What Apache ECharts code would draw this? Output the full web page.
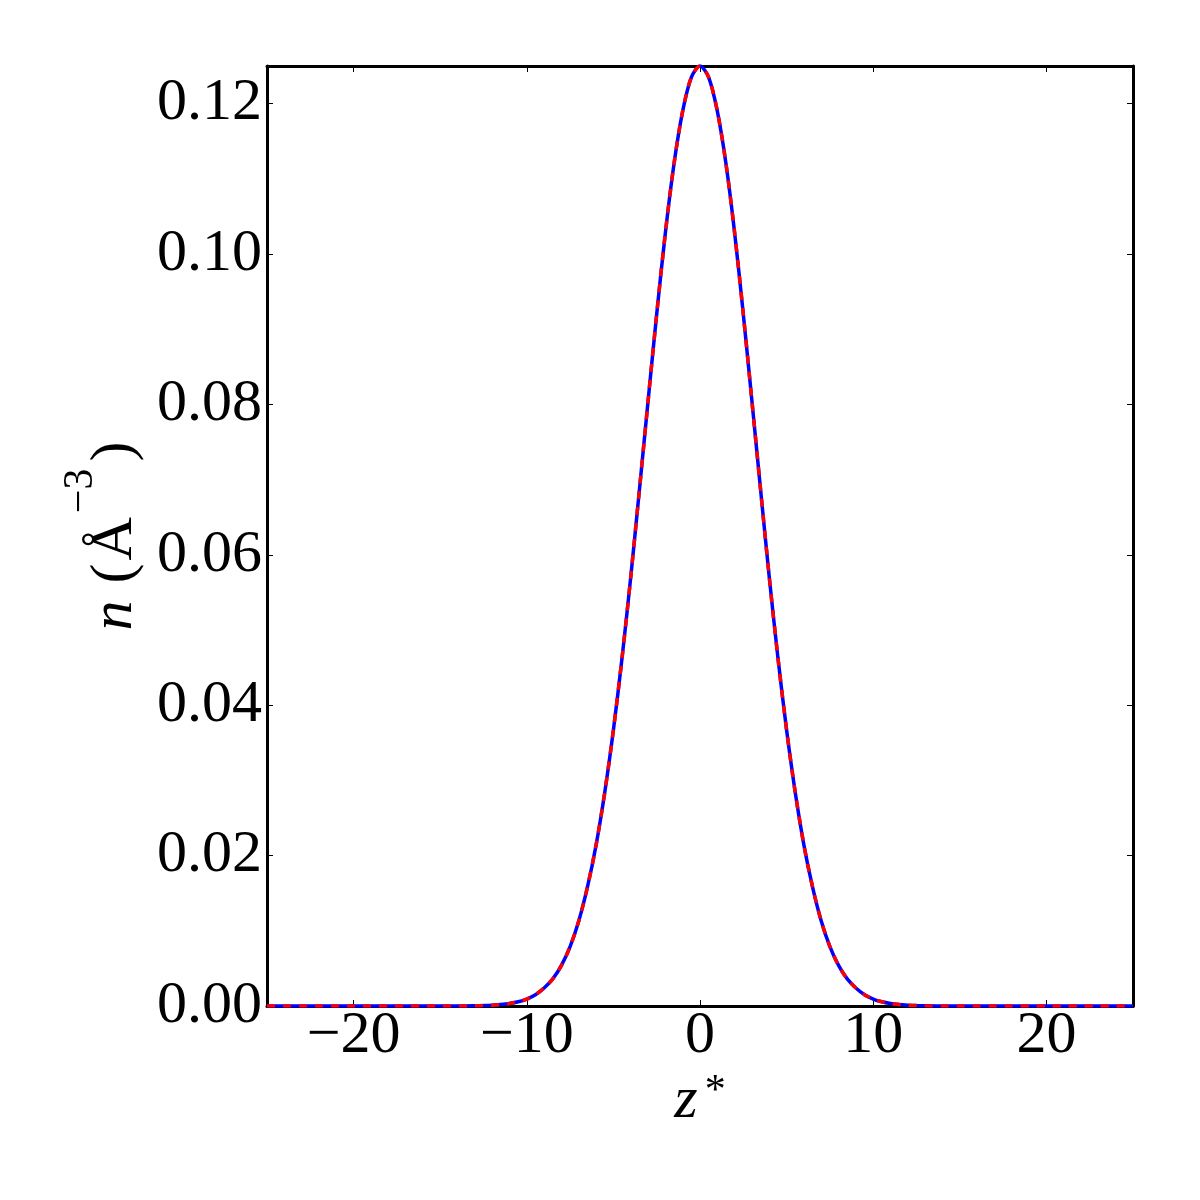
<!DOCTYPE html>
<html>
<head>
<meta charset="utf-8">
<script src="https://cdn.jsdelivr.net/npm/echarts@6/dist/echarts.min.js"></script>
<style>
  html, body { margin: 0; padding: 0; background: #fff; }
  #main { width: 1200px; height: 1200px; }
</style>
</head>
<body>
<div id="main"></div>
<script>
// z* positions and densities
var zList = [-25, -24, -23, -22, -21, -20, -19, -18, -17, -16, -15, -14,
    -13, -12.5, -12, -11.5, -11, -10.5, -10, -9.5, -9, -8.5, -8, -7.5, -7, -6.5, -6, -5.5, -5, -4.5, -4, -3.5, -3, -2.5, -2, -1.5, -1, -0.5,
    0,
    0.5, 1, 1.5, 2, 2.5, 3, 3.5, 4, 4.5, 5, 5.5, 6, 6.5, 7, 7.5, 8, 8.5, 9, 9.5, 10, 10.5, 11, 11.5, 12, 12.5, 13,
    14, 15, 16, 17, 18, 19, 20, 21, 22, 23, 24, 25];

var nBlue = [0, 0, 0, 0, 0, 0, 0, 0, 0, 0, 0, 0,
    0.00003, 0.00006, 0.00011, 0.00019, 0.00033, 0.00056, 0.00093, 0.0015, 0.0024, 0.0036, 0.0054, 0.0079, 0.0113, 0.0158, 0.0214, 0.0284, 0.0367, 0.0463, 0.0570, 0.0686, 0.0804, 0.0920, 0.1028, 0.1120, 0.1190, 0.1235,
    0.1250,
    0.1235, 0.1190, 0.1120, 0.1028, 0.0920, 0.0804, 0.0686, 0.0570, 0.0463, 0.0367, 0.0284, 0.0214, 0.0158, 0.0113, 0.0079, 0.0054, 0.0036, 0.0024, 0.0015, 0.00093, 0.00056, 0.00033, 0.00019, 0.00011, 0.00006, 0.00003,
    0, 0, 0, 0, 0, 0, 0, 0, 0, 0, 0, 0];

var nRed = [0, 0, 0, 0, 0, 0, 0, 0, 0, 0, 0, 0,
    0.00003, 0.00006, 0.00011, 0.00019, 0.00033, 0.00056, 0.00093, 0.0015, 0.0024, 0.0036, 0.0054, 0.0079, 0.0113, 0.0158, 0.0214, 0.0284, 0.0367, 0.0463, 0.0570, 0.0686, 0.0804, 0.0920, 0.1028, 0.1120, 0.1190, 0.1235,
    0.1250,
    0.1235, 0.1190, 0.1120, 0.1028, 0.0920, 0.0804, 0.0686, 0.0570, 0.0463, 0.0367, 0.0284, 0.0214, 0.0158, 0.0113, 0.0079, 0.0054, 0.0036, 0.0024, 0.0015, 0.00093, 0.00056, 0.00033, 0.00019, 0.00011, 0.00006, 0.00003,
    0, 0, 0, 0, 0, 0, 0, 0, 0, 0, 0, 0];

var xTicks = [-20, -10, 0, 10, 20];
var yTicks = [0, 0.02, 0.04, 0.06, 0.08, 0.10, 0.12];

var serif = 'Liberation Serif';

function pairs(xs, ys) {
    var out = [];
    for (var i = 0; i < xs.length; i++) {
        out.push([xs[i], ys[i]]);
    }
    return out;
}

var chart = echarts.init(document.getElementById('main'));

var tickStyle = { inside: true, length: 6, lineStyle: { color: '#000', width: 1 } };
var frameLine = { show: true, onZero: false, lineStyle: { color: '#000', width: 3 } };

var option = {
    animation: false,
    backgroundColor: '#fff',
    grid: { left: 267, right: 67, top: 66, bottom: 194, containLabel: false },
    xAxis: [{
        type: 'value',
        min: -25,
        max: 25,
        position: 'bottom',
        axisLine: frameLine,
        axisTick: Object.assign({ customValues: xTicks }, tickStyle),
        splitLine: { show: false },
        axisLabel: {
            customValues: xTicks,
            margin: 0,
            fontFamily: serif,
            fontSize: 60,
            color: '#000',
            formatter: function (v) {
                return v < 0 ? '\u2212' + Math.abs(v) : String(v);
            }
        },
        name: '{i|z}{s|*}',
        nameLocation: 'middle',
        nameGap: 46,
        nameTextStyle: {
            rich: {
                i: { fontFamily: serif, fontStyle: 'italic', fontSize: 60, color: '#000' },
                s: { fontFamily: serif, fontSize: 42, color: '#000', verticalAlign: 'top', padding: [0, 0, 0, 7] }
            }
        }
    }, {
        type: 'value',
        min: -25,
        max: 25,
        position: 'top',
        axisLine: frameLine,
        axisTick: Object.assign({ customValues: xTicks }, tickStyle),
        splitLine: { show: false },
        axisLabel: { show: false }
    }],
    yAxis: [{
        type: 'value',
        min: 0,
        max: 0.125,
        position: 'left',
        axisLine: frameLine,
        axisTick: Object.assign({ customValues: yTicks }, tickStyle),
        splitLine: { show: false },
        axisLabel: {
            customValues: yTicks,
            margin: 5,
            fontFamily: serif,
            fontSize: 60,
            color: '#000',
            formatter: function (v) {
                return v.toFixed(2);
            }
        },
        name: '{i|n}{o|(}{r|Å}{s|\u22123}{r|)}',
        nameLocation: 'middle',
        nameRotate: 90,
        nameGap: 97,
        nameTextStyle: {
            rich: {
                i: { fontFamily: serif, fontStyle: 'italic', fontSize: 60, color: '#000', lineHeight: 110, padding: [0, 14, 0, 0] },
                o: { fontFamily: serif, fontSize: 60, color: '#000', lineHeight: 110, padding: [0, 3, 0, 3] },
                r: { fontFamily: serif, fontSize: 60, color: '#000', lineHeight: 110 },
                s: { fontFamily: serif, fontSize: 42, color: '#000', verticalAlign: 'top', lineHeight: 42, padding: [0, 7, 0, 4] }
            }
        }
    }, {
        type: 'value',
        min: 0,
        max: 0.125,
        position: 'right',
        axisLine: frameLine,
        axisTick: Object.assign({ customValues: yTicks }, tickStyle),
        splitLine: { show: false },
        axisLabel: { show: false }
    }],
    series: [{
        type: 'line',
        xAxisIndex: 0,
        yAxisIndex: 0,
        showSymbol: false,
        smooth: 0.3,
        lineStyle: { color: '#0000ff', width: 3.5, type: 'solid' },
        data: pairs(zList, nBlue)
    }, {
        type: 'line',
        xAxisIndex: 0,
        yAxisIndex: 0,
        showSymbol: false,
        smooth: 0.3,
        lineStyle: { color: '#ff0000', width: 3.5, type: [8, 8] },
        data: pairs(zList, nRed)
    }]
};

chart.setOption(option);
</script>
</body>
</html>
